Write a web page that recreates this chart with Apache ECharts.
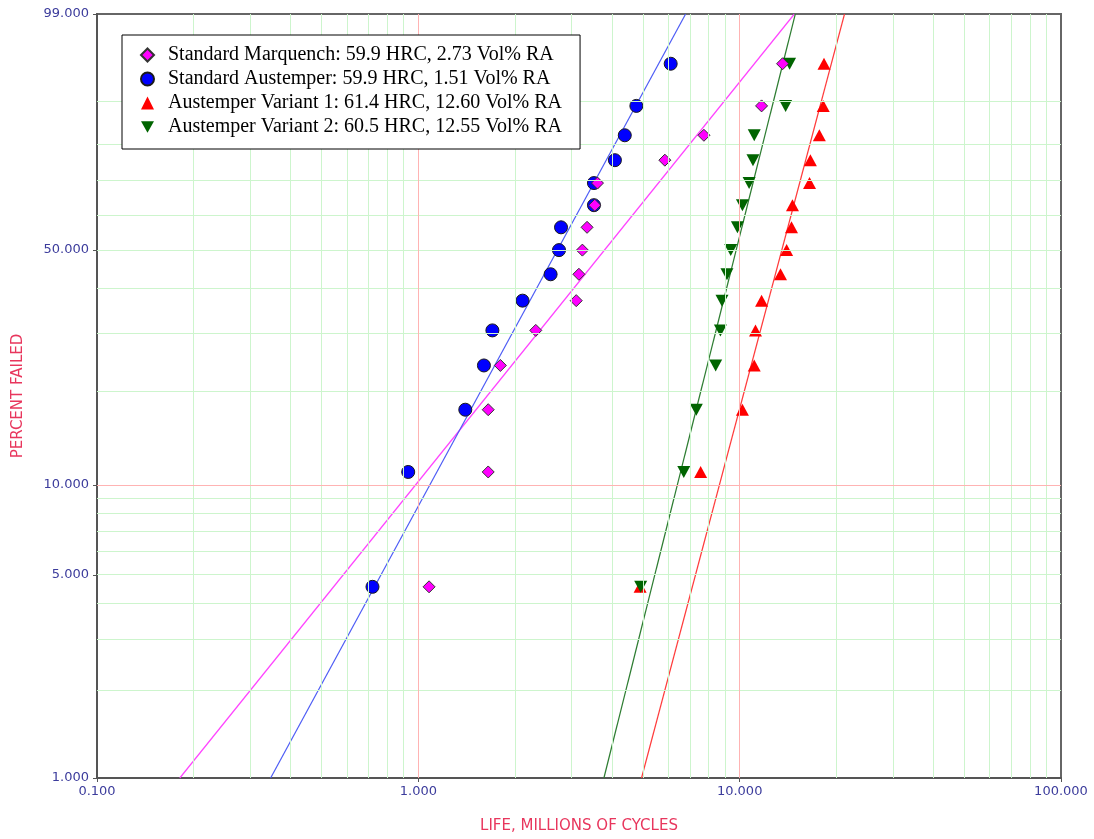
<!DOCTYPE html>
<html>
<head>
<meta charset="utf-8">
<title>Weibull plot</title>
<script src="https://cdn.jsdelivr.net/npm/echarts@6/dist/echarts.min.js"></script>
<style>
  html, body { margin: 0; padding: 0; background: #fff; }
  #chart { width: 1094px; height: 839px; }
</style>
</head>
<body>
<div id="chart"></div>
<script>
// median ranks (n = 15), percent failed
const percentFailed = [4.55, 11.04, 17.53, 24.03, 30.52, 37.01, 43.51, 50.0, 56.49, 62.99, 69.48, 75.97, 82.47, 88.96, 95.45];

// life, millions of cycles
const marquenchLife = [1.08, 1.65, 1.65, 1.80, 2.32, 3.10, 3.16, 3.24, 3.35, 3.54, 3.61, 5.85, 7.74, 11.7, 13.6];
const austemperLife = [0.72, 0.93, 1.40, 1.60, 1.70, 2.11, 2.58, 2.74, 2.78, 3.52, 3.52, 4.09, 4.39, 4.77, 6.10];
const variant1Life = [4.90, 7.56, 10.2, 11.1, 11.2, 11.7, 13.4, 14.0, 14.5, 14.6, 16.5, 16.6, 17.7, 18.2, 18.3];
const variant2Life = [4.92, 6.70, 7.33, 8.42, 8.71, 8.81, 9.13, 9.38, 9.84, 10.2, 10.7, 11.0, 11.1, 13.9, 14.3];

// fitted lines: [life, percent] at 1% and 99%
const marquenchFit = [[0.181, 1], [14.8, 99]];
const austemperFit = [[0.347, 1], [6.79, 99]];
const variant1Fit = [[4.95, 1], [21.2, 99]];
const variant2Fit = [[3.78, 1], [14.9, 99]];

const seriesNames = [
  "Standard Marquench: 59.9 HRC, 2.73 Vol% RA",
  "Standard Austemper: 59.9 HRC, 1.51 Vol% RA",
  "Austemper Variant 1: 61.4 HRC, 12.60 Vol% RA",
  "Austemper Variant 2: 60.5 HRC, 12.55 Vol% RA",
];

// axis ticks / grid lines
const yTickLabels = [1, 5, 10, 50, 99];
const yGridGreen = [2, 3, 4, 5, 6, 7, 8, 9, 20, 30, 40, 50, 60, 70, 80, 90];
const yGridRed = [10];
const xGridGreen = [0.2, 0.3, 0.4, 0.5, 0.6, 0.7, 0.8, 0.9, 2, 3, 4, 5, 6, 7, 8, 9, 20, 30, 40, 50, 60, 70, 80, 90];
const xGridRed = [1, 10];

// weibull probability scale
const W = (p) => Math.log(-Math.log(1 - p / 100));
const invW = (w) => 100 * (1 - Math.exp(-Math.exp(w)));

const pts = (life) => life.map((v, i) => [v, W(percentFailed[i])]);
const fit = (arr) => arr.map((d) => [d[0], W(d[1])]);

const chart = echarts.init(document.getElementById("chart"));

const gridGreen = "#cdf5cd";
const gridRed = "#ffb3b3";

chart.setOption({
  animation: false,
  backgroundColor: "#fff",
  grid: {
    left: 97,
    right: 33,
    top: 14,
    bottom: 61,
    show: true,
    borderColor: "#666",
    borderWidth: 2,
    backgroundColor: "#fff",
  },
  legend: {
    data: seriesNames,
    orient: "vertical",
    left: 122,
    top: 35,
    z: 20,
    backgroundColor: "#fff",
    borderColor: "#000",
    borderWidth: 1,
    padding: [10, 18, 12, 18],
    itemWidth: 13,
    itemHeight: 13,
    itemGap: 4,
    textStyle: {
      fontFamily: "Liberation Serif",
      fontSize: 20,
      color: "#000",
      padding: [0, 0, 0, 9],
    },
  },
  xAxis: {
    type: "log",
    logBase: 10,
    min: 0.1,
    max: 100,
    name: "LIFE, MILLIONS OF CYCLES",
    nameLocation: "middle",
    nameGap: 41,
    nameTextStyle: {
      color: "#e8365d",
      fontFamily: "DejaVu Sans",
      fontSize: 15,
    },
    axisLine: { onZero: false, lineStyle: { color: "#555", width: 2 } },
    axisTick: { show: true, length: 4, lineStyle: { color: "#555" } },
    axisLabel: {
      color: "#3c3c9c",
      fontFamily: "DejaVu Sans",
      fontSize: 13,
      margin: 7,
      formatter: (v) => Number(v).toFixed(3),
    },
    splitLine: { show: false },
    minorTick: { show: false },
  },
  yAxis: {
    type: "value",
    min: W(1),
    max: W(99),
    name: "PERCENT FAILED",
    nameLocation: "middle",
    nameGap: 71,
    nameTextStyle: {
      color: "#e8365d",
      fontFamily: "DejaVu Sans",
      fontSize: 15,
    },
    axisLine: { onZero: false, lineStyle: { color: "#555", width: 2 } },
    axisTick: {
      show: true,
      length: 4,
      lineStyle: { color: "#555" },
      customValues: yTickLabels.map(W),
    },
    axisLabel: {
      color: "#3c3c9c",
      fontFamily: "DejaVu Sans",
      fontSize: 13,
      margin: 8,
      customValues: yTickLabels.map(W),
      formatter: (v) => invW(v).toFixed(3),
    },
    splitLine: { show: false },
  },
  series: [
    {
      name: "grid",
      type: "line",
      data: [],
      silent: true,
      z: 0,
      markLine: {
        silent: true,
        symbol: "none",
        label: { show: false },
        animation: false,
        data: [
          ...xGridGreen.map((v) => ({ xAxis: v, lineStyle: { color: gridGreen, width: 1, type: "solid" } })),
          ...yGridGreen.map((p) => ({ yAxis: W(p), lineStyle: { color: gridGreen, width: 1, type: "solid" } })),
          ...xGridRed.map((v) => ({ xAxis: v, lineStyle: { color: gridRed, width: 1, type: "solid" } })),
          ...yGridRed.map((p) => ({ yAxis: W(p), lineStyle: { color: gridRed, width: 1, type: "solid" } })),
        ],
      },
    },
    // fitted lines
    {
      type: "line",
      data: fit(marquenchFit),
      showSymbol: false,
      silent: true,
      z: 2,
      lineStyle: { color: "#ff44ff", width: 1.2 },
    },
    {
      type: "line",
      data: fit(austemperFit),
      showSymbol: false,
      silent: true,
      z: 2,
      lineStyle: { color: "#4d5cf5", width: 1.2 },
    },
    {
      type: "line",
      data: fit(variant1Fit),
      showSymbol: false,
      silent: true,
      z: 2,
      lineStyle: { color: "#ff3b3b", width: 1.2 },
    },
    {
      type: "line",
      data: fit(variant2Fit),
      showSymbol: false,
      silent: true,
      z: 2,
      lineStyle: { color: "#2e7d32", width: 1.2 },
    },
    // data points
    {
      name: seriesNames[1],
      type: "scatter",
      data: pts(austemperLife),
      symbol: "circle",
      symbolSize: 13,
      z: 3,
      itemStyle: { color: "#0000ff", borderColor: "#1a1a1a", borderWidth: 1, opacity: 1 },
    },
    {
      name: seriesNames[0],
      type: "scatter",
      data: pts(marquenchLife),
      symbol: "diamond",
      symbolSize: [12, 12],
      z: 4,
      itemStyle: { color: "#ff00ff", borderColor: "#333", borderWidth: 1, opacity: 1 },
    },
    {
      name: seriesNames[2],
      type: "scatter",
      data: pts(variant1Life),
      symbol: "triangle",
      symbolSize: [13, 12],
      z: 3,
      itemStyle: { color: "#ff0000", opacity: 1 },
    },
    {
      name: seriesNames[3],
      type: "scatter",
      data: pts(variant2Life),
      symbol: "path://M0,0 L10,0 L5,9 Z",
      symbolSize: [13, 12],
      z: 3,
      itemStyle: { color: "#006400", opacity: 1 },
    },
  ],
});
</script>
</body>
</html>
